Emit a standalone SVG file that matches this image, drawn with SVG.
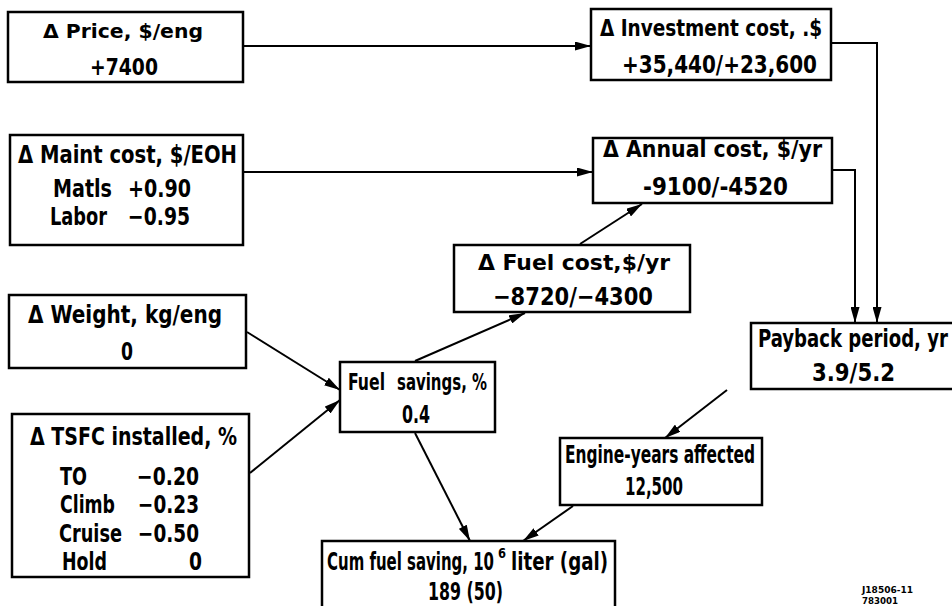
<svg xmlns="http://www.w3.org/2000/svg" width="952" height="606" viewBox="0 0 952 606">
<style>
.box{fill:#fff;stroke:#000;stroke-width:2.5}
.t{font-family:"Liberation Sans Narrow","DejaVu Sans Condensed","Liberation Sans",sans-serif;font-weight:bold;fill:#000}
.c{fill:none;stroke:#000;stroke-width:2}
</style>
<defs>
<marker id="ah" markerUnits="userSpaceOnUse" markerWidth="17" markerHeight="9" refX="16" refY="4.5" orient="auto">
<path d="M0,0 L16,4.5 L0,9 z" fill="#000"/>
</marker>
</defs>
<rect width="952" height="606" fill="#fff"/>
<g id="price">
<rect class="box" x="8" y="12" width="235" height="70"/>
<text class="t" x="43" y="38" font-size="20" textLength="160" lengthAdjust="spacingAndGlyphs">Δ Price, $/eng</text>
<text class="t" x="90" y="75" font-size="23" textLength="68" lengthAdjust="spacingAndGlyphs">+7400</text>
</g>
<g id="investment">
<rect class="box" x="591" y="9" width="240" height="71"/>
<text class="t" x="600" y="36" font-size="23" textLength="222" lengthAdjust="spacingAndGlyphs">Δ Investment cost, .$</text>
<text class="t" x="622" y="73" font-size="25" textLength="195" lengthAdjust="spacingAndGlyphs">+35,440/+23,600</text>
</g>
<g id="maint">
<rect class="box" x="10" y="135" width="233" height="110"/>
<text class="t" x="18" y="163" font-size="24" textLength="219" lengthAdjust="spacingAndGlyphs">Δ Maint cost, $/EOH</text>
<text class="t" x="53" y="197" font-size="25" textLength="59" lengthAdjust="spacingAndGlyphs">Matls</text>
<text class="t" x="128" y="197" font-size="25" textLength="63" lengthAdjust="spacingAndGlyphs">+0.90</text>
<text class="t" x="50" y="225" font-size="25" textLength="57" lengthAdjust="spacingAndGlyphs">Labor</text>
<text class="t" x="128" y="225" font-size="25" textLength="62" lengthAdjust="spacingAndGlyphs">−0.95</text>
</g>
<g id="annual">
<rect class="box" x="593" y="138" width="239" height="65"/>
<text class="t" x="603" y="157" font-size="23" textLength="219" lengthAdjust="spacingAndGlyphs">Δ Annual cost, $/yr</text>
<text class="t" x="643" y="195" font-size="25" textLength="145" lengthAdjust="spacingAndGlyphs">-9100/-4520</text>
</g>
<g id="fuelcost">
<rect class="box" x="454" y="245" width="236" height="67"/>
<text class="t" x="478" y="270" font-size="21" textLength="192" lengthAdjust="spacingAndGlyphs">Δ Fuel cost,$/yr</text>
<text class="t" x="493" y="305" font-size="24" textLength="160" lengthAdjust="spacingAndGlyphs">−8720/−4300</text>
</g>
<g id="payback">
<rect class="box" x="751" y="323" width="215" height="66"/>
<text class="t" x="758" y="347" font-size="24" textLength="190" lengthAdjust="spacingAndGlyphs">Payback period, yr</text>
<text class="t" x="812" y="381" font-size="25" textLength="83" lengthAdjust="spacingAndGlyphs">3.9/5.2</text>
</g>
<g id="weight">
<rect class="box" x="9" y="295" width="237" height="73"/>
<text class="t" x="28" y="323" font-size="25" textLength="194" lengthAdjust="spacingAndGlyphs">Δ Weight, kg/eng</text>
<text class="t" x="121" y="360" font-size="25" textLength="12" lengthAdjust="spacingAndGlyphs">0</text>
</g>
<g id="tsfc">
<rect class="box" x="12" y="414" width="237" height="163"/>
<text class="t" x="30" y="445" font-size="25" textLength="207" lengthAdjust="spacingAndGlyphs">Δ TSFC installed, %</text>
<text class="t" x="60" y="485" font-size="25" textLength="27" lengthAdjust="spacingAndGlyphs">TO</text>
<text class="t" x="137" y="485" font-size="25" textLength="62" lengthAdjust="spacingAndGlyphs">−0.20</text>
<text class="t" x="60" y="513" font-size="25" textLength="55" lengthAdjust="spacingAndGlyphs">Climb</text>
<text class="t" x="138" y="513" font-size="25" textLength="61" lengthAdjust="spacingAndGlyphs">−0.23</text>
<text class="t" x="59" y="542" font-size="25" textLength="63" lengthAdjust="spacingAndGlyphs">Cruise</text>
<text class="t" x="138" y="542" font-size="25" textLength="61" lengthAdjust="spacingAndGlyphs">−0.50</text>
<text class="t" x="62" y="570" font-size="25" textLength="45" lengthAdjust="spacingAndGlyphs">Hold</text>
<text class="t" x="189" y="570" font-size="25" textLength="13" lengthAdjust="spacingAndGlyphs">0</text>
</g>
<g id="fuelsavings">
<rect class="box" x="340" y="362" width="155" height="70"/>
<text class="t" x="348" y="390" font-size="23" textLength="37" lengthAdjust="spacingAndGlyphs">Fuel</text>
<text class="t" x="397" y="390" font-size="23" textLength="90" lengthAdjust="spacingAndGlyphs">savings, %</text>
<text class="t" x="402" y="423" font-size="24" textLength="28" lengthAdjust="spacingAndGlyphs">0.4</text>
</g>
<g id="engineyears">
<rect class="box" x="560" y="438" width="202" height="67"/>
<text class="t" x="565" y="463" font-size="24" textLength="190" lengthAdjust="spacingAndGlyphs">Engine-years affected</text>
<text class="t" x="625" y="495" font-size="24" textLength="58" lengthAdjust="spacingAndGlyphs">12,500</text>
</g>
<g id="cumfuel">
<rect class="box" x="322" y="541" width="293" height="75"/>
<text class="t" x="327" y="570" font-size="24" textLength="167" lengthAdjust="spacingAndGlyphs">Cum fuel saving, 10</text>
<text class="t" x="498" y="558" font-size="14" textLength="8" lengthAdjust="spacingAndGlyphs">6</text>
<text class="t" x="511" y="570" font-size="24" textLength="97" lengthAdjust="spacingAndGlyphs">liter (gal)</text>
<text class="t" x="428" y="600" font-size="24" textLength="75" lengthAdjust="spacingAndGlyphs">189 (50)</text>
</g>
<g id="code">
<text class="t" x="862" y="593" font-size="8" textLength="51" lengthAdjust="spacingAndGlyphs">J18506-11</text>
<text class="t" x="862" y="604" font-size="8" textLength="36" lengthAdjust="spacingAndGlyphs">783001</text>
</g>
<g id="connectors">
<path class="c" d="M244,46 H591" marker-end="url(#ah)"/>
<path class="c" d="M244,172 H593" marker-end="url(#ah)"/>
<path class="c" d="M832,43 H877 V323" marker-end="url(#ah)"/>
<path class="c" d="M833,170 H855 V323" marker-end="url(#ah)"/>
<path class="c" d="M247,332 L340,390" marker-end="url(#ah)"/>
<path class="c" d="M250,473 L340,400" marker-end="url(#ah)"/>
<path class="c" d="M415,361 L525,313" marker-end="url(#ah)"/>
<path class="c" d="M580,244 L642,204" marker-end="url(#ah)"/>
<path class="c" d="M415,433 L470,541" marker-end="url(#ah)"/>
<path class="c" d="M727,390 L665,438" marker-end="url(#ah)"/>
<path class="c" d="M573,506 L523,541" marker-end="url(#ah)"/>
</g>
</svg>
